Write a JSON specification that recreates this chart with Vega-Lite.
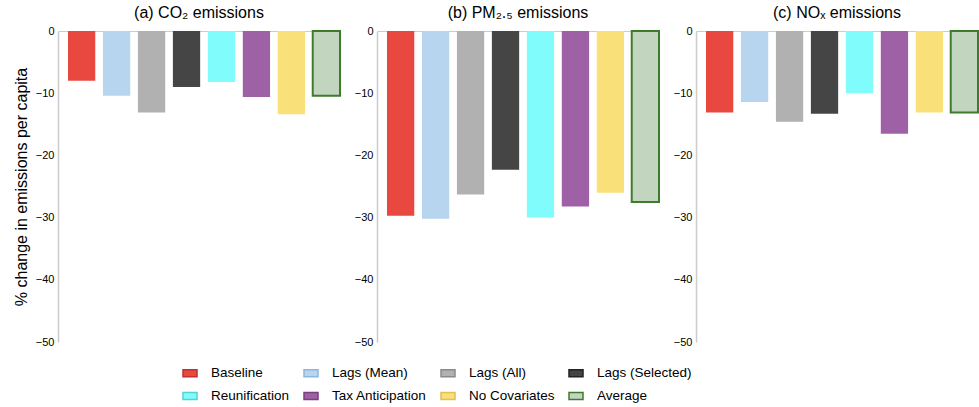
{
  "$schema": "https://vega.github.io/schema/vega-lite/v6.json",
  "padding": {"left": 13, "top": 5, "right": 0, "bottom": 0},
  "background": "white",
  "data": {"values": [
    {"pollutant": "CO2", "model": "Baseline", "value": -8.0},
    {"pollutant": "CO2", "model": "Lags (Mean)", "value": -10.4},
    {"pollutant": "CO2", "model": "Lags (All)", "value": -13.1},
    {"pollutant": "CO2", "model": "Lags (Selected)", "value": -9.0},
    {"pollutant": "CO2", "model": "Reunification", "value": -8.2},
    {"pollutant": "CO2", "model": "Tax Anticipation", "value": -10.6},
    {"pollutant": "CO2", "model": "No Covariates", "value": -13.4},
    {"pollutant": "CO2", "model": "Average", "value": -10.4},
    {"pollutant": "PM25", "model": "Baseline", "value": -29.7},
    {"pollutant": "PM25", "model": "Lags (Mean)", "value": -30.2},
    {"pollutant": "PM25", "model": "Lags (All)", "value": -26.3},
    {"pollutant": "PM25", "model": "Lags (Selected)", "value": -22.3},
    {"pollutant": "PM25", "model": "Reunification", "value": -30.0},
    {"pollutant": "PM25", "model": "Tax Anticipation", "value": -28.2},
    {"pollutant": "PM25", "model": "No Covariates", "value": -26.0},
    {"pollutant": "PM25", "model": "Average", "value": -27.5},
    {"pollutant": "NOX", "model": "Baseline", "value": -13.1},
    {"pollutant": "NOX", "model": "Lags (Mean)", "value": -11.4},
    {"pollutant": "NOX", "model": "Lags (All)", "value": -14.6},
    {"pollutant": "NOX", "model": "Lags (Selected)", "value": -13.3},
    {"pollutant": "NOX", "model": "Reunification", "value": -10.0},
    {"pollutant": "NOX", "model": "Tax Anticipation", "value": -16.5},
    {"pollutant": "NOX", "model": "No Covariates", "value": -13.1},
    {"pollutant": "NOX", "model": "Average", "value": -13.1}
  ]},
  "hconcat": [
    {
      "width": 282, "height": 311,
      "title": {"text": "(a) CO₂ emissions"},
      "transform": [{"filter": "datum.pollutant === 'CO2'"}],
      "mark": {"type": "bar"},
      "encoding": {
        "x": {"field": "model", "type": "nominal",
              "scale": {"domain": ["Baseline", "Lags (Mean)", "Lags (All)", "Lags (Selected)", "Reunification", "Tax Anticipation", "No Covariates", "Average"], "paddingInner": 0.22, "paddingOuter": 0.143, "align": 1},
              "axis": {"orient": "top", "labels": false, "ticks": false, "title": null, "domainColor": "#cccccc", "domainWidth": 1}},
        "y": {"field": "value", "type": "quantitative",
              "scale": {"domain": [-50, 0], "nice": false},
              "axis": {"values": [0, -10, -20, -30, -40, -50], "title": "% change in emissions per capita", "titlePadding": 6}},
        "fill": {"field": "model", "type": "nominal",
                 "scale": {"domain": ["Baseline", "Lags (Mean)", "Lags (All)", "Lags (Selected)", "Reunification", "Tax Anticipation", "No Covariates", "Average"],
                           "range": ["#E8483F", "#B7D5EF", "#B1B1B1", "#454545", "#80FCFC", "#9F61A6", "#F9E079", "#C1D5BF"]},
                 "legend": {"title": null, "orient": "none", "legendX": 124, "legendY": 334, "columns": 4, "direction": "horizontal"}},
        "stroke": {"field": "model", "type": "nominal",
                   "scale": {"domain": ["Baseline", "Lags (Mean)", "Lags (All)", "Lags (Selected)", "Reunification", "Tax Anticipation", "No Covariates", "Average"],
                             "range": ["#C0302A", "#90B6DA", "#8A8A8A", "#222222", "#55D2D2", "#7A3F80", "#E2C055", "#3E7B2D"]},
                   "legend": {"title": null, "orient": "none", "legendX": 124, "legendY": 334, "columns": 4, "direction": "horizontal"}},
        "strokeWidth": {"condition": {"test": "datum.model === 'Average'", "value": 2}, "value": 0}
      }
    },
    {
      "width": 282, "height": 311,
      "title": {"text": "(b) PM₂.₅ emissions"},
      "transform": [{"filter": "datum.pollutant === 'PM25'"}],
      "mark": {"type": "bar"},
      "encoding": {
        "x": {"field": "model", "type": "nominal",
              "scale": {"domain": ["Baseline", "Lags (Mean)", "Lags (All)", "Lags (Selected)", "Reunification", "Tax Anticipation", "No Covariates", "Average"], "paddingInner": 0.22, "paddingOuter": 0.143, "align": 1},
              "axis": {"orient": "top", "labels": false, "ticks": false, "title": null, "domainColor": "#cccccc", "domainWidth": 1}},
        "y": {"field": "value", "type": "quantitative",
              "scale": {"domain": [-50, 0], "nice": false},
              "axis": {"values": [0, -10, -20, -30, -40, -50], "title": null}},
        "fill": {"field": "model", "type": "nominal"},
        "stroke": {"field": "model", "type": "nominal"},
        "strokeWidth": {"condition": {"test": "datum.model === 'Average'", "value": 2}, "value": 0}
      }
    },
    {
      "width": 282, "height": 311,
      "title": {"text": "(c) NOₓ emissions"},
      "transform": [{"filter": "datum.pollutant === 'NOX'"}],
      "mark": {"type": "bar"},
      "encoding": {
        "x": {"field": "model", "type": "nominal",
              "scale": {"domain": ["Baseline", "Lags (Mean)", "Lags (All)", "Lags (Selected)", "Reunification", "Tax Anticipation", "No Covariates", "Average"], "paddingInner": 0.22, "paddingOuter": 0.143, "align": 1},
              "axis": {"orient": "top", "labels": false, "ticks": false, "title": null, "domainColor": "#cccccc", "domainWidth": 1}},
        "y": {"field": "value", "type": "quantitative",
              "scale": {"domain": [-50, 0], "nice": false},
              "axis": {"values": [0, -10, -20, -30, -40, -50], "title": null}},
        "fill": {"field": "model", "type": "nominal"},
        "stroke": {"field": "model", "type": "nominal"},
        "strokeWidth": {"condition": {"test": "datum.model === 'Average'", "value": 2}, "value": 0}
      }
    }
  ],
  "spacing": 13,
  "resolve": {"scale": {"fill": "shared", "stroke": "shared", "x": "independent", "y": "independent"}, "legend": {"fill": "shared", "stroke": "shared"}},
  "config": {
    "font": "Liberation Sans",
    "view": {"stroke": null},
    "title": {"fontSize": 16, "fontWeight": "normal", "color": "#000000", "anchor": "middle", "offset": 4},
    "axis": {"labelFontSize": 11, "labelColor": "#000000", "titleFontSize": 16, "titleFontWeight": "normal", "titleColor": "#000000", "grid": false, "ticks": false, "domainColor": "#cccccc", "domainWidth": 1.5, "labelPadding": 4},
    "legend": {"labelFontSize": 13.5, "labelColor": "#000000", "symbolType": "M-1,-0.5H1V0.5H-1Z", "symbolSize": 196, "symbolStrokeWidth": 1.5, "labelOffset": 13, "columnPadding": 11, "rowPadding": 8, "padding": 0}
  }
}
